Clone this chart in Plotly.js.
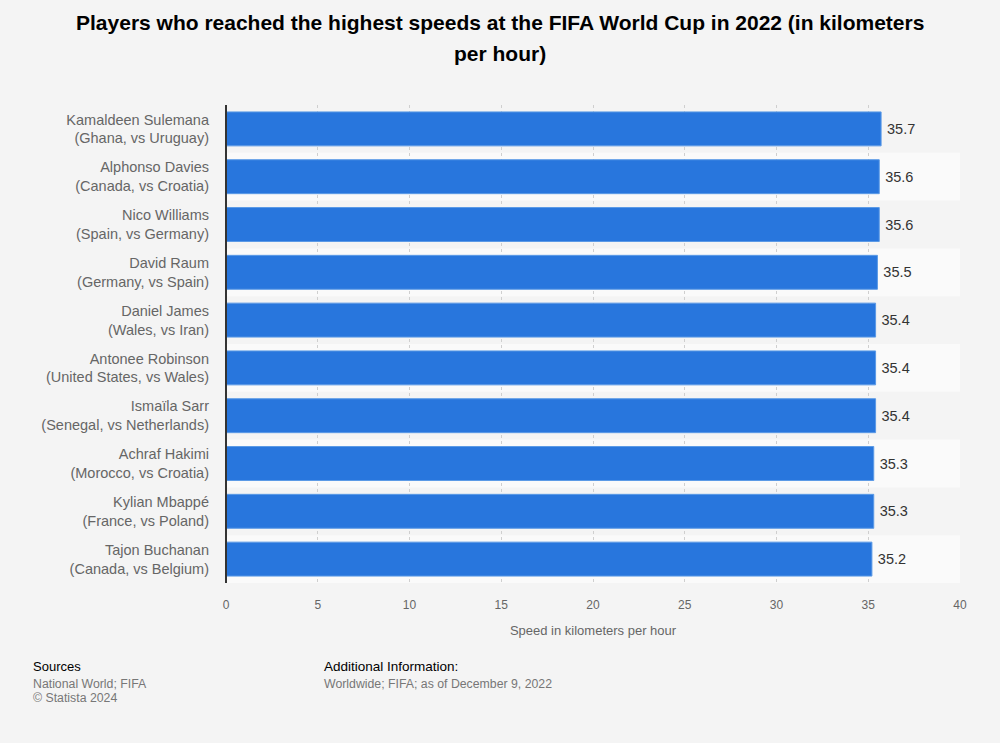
<!DOCTYPE html>
<html><head><meta charset="utf-8">
<script src="https://cdn.plot.ly/plotly-3.0.1.min.js"></script>
<style>html,body{margin:0;padding:0;background:#f4f4f4;}#chart{width:1000px;height:743px;}</style>
</head><body><div id="chart"></div>
<script>
const players = [
  "Kamaldeen Sulemana<br>(Ghana, vs Uruguay)",
  "Alphonso Davies<br>(Canada, vs Croatia)",
  "Nico Williams<br>(Spain, vs Germany)",
  "David Raum<br>(Germany, vs Spain)",
  "Daniel James<br>(Wales, vs Iran)",
  "Antonee Robinson<br>(United States, vs Wales)",
  "Ismaïla Sarr<br>(Senegal, vs Netherlands)",
  "Achraf Hakimi<br>(Morocco, vs Croatia)",
  "Kylian Mbappé<br>(France, vs Poland)",
  "Tajon Buchanan<br>(Canada, vs Belgium)"
];
const speeds = [35.7, 35.6, 35.6, 35.5, 35.4, 35.4, 35.4, 35.3, 35.3, 35.2];
const xTicks = [0, 5, 10, 15, 20, 25, 30, 35, 40];
const titleLines = ["Players who reached the highest speeds at the FIFA World Cup in 2022 (in kilometers", "per hour)"];

const font = "Liberation Sans, Arial, sans-serif";
const shapes = [];
players.forEach((p, i) => {
  if (i % 2 === 1) {
    shapes.push({type:'rect', xref:'paper', yref:'y', x0:0, x1:1, y0:i-0.5, y1:i+0.5,
      fillcolor:'#fafafa', line:{width:0}, layer:'below'});
  }
});
shapes.push({type:'line', xref:'paper', yref:'paper', x0:0, x1:0, y0:0, y1:1, line:{color:'#333', width:2}});

const trace = {
  type:'bar', orientation:'h', y:players, x:speeds,
  marker:{color:'#2876dd', line:{color:'#5b9ae6', width:1}},
  text:speeds.map(v=>'\u2009' + v.toFixed(1)), textposition:'outside',
  textfont:{family:font, size:14.5, color:'#333'}, cliponaxis:false,
  hoverinfo:'none'
};

const foot = (x, y, text, size, color) => ({xref:'paper', yref:'paper', x:x, y:y, xanchor:'left', yanchor:'middle',
  showarrow:false, text:text, font:{family:font, size:size, color:color}});

const layout = {
  width:1000, height:743,
  paper_bgcolor:'#f4f4f4', plot_bgcolor:'#f4f4f4',
  margin:{l:226, r:40, t:105, b:160},
  bargap:0.29,
  showlegend:false,
  font:{family:font},
  xaxis:{range:[0,40], tickvals:xTicks, showgrid:true, gridcolor:'#cfcfcf', griddash:'dot', gridwidth:1,
    zeroline:false, showline:false, ticks:'', tickfont:{family:font, size:12, color:'#666'}, ticklabelstandoff:13,
    title:{text:'Speed in kilometers per hour', font:{family:font, size:13, color:'#666'}, standoff:14}},
  yaxis:{autorange:'reversed', showgrid:false, zeroline:false, showline:false, ticks:'',
    tickfont:{family:font, size:14.5, color:'#666'}, ticklabelstandoff:16},
  shapes:shapes,
  annotations:[
    {xref:'paper', yref:'paper', x:0.3733, y:(583-22)/478, xanchor:'center', yanchor:'middle', showarrow:false,
      text:'<b>'+titleLines[0]+'</b>', font:{family:font, size:21, color:'#000'}},
    {xref:'paper', yref:'paper', x:0.3733, y:(583-53)/478, xanchor:'center', yanchor:'middle', showarrow:false,
      text:'<b>'+titleLines[1]+'</b>', font:{family:font, size:21, color:'#000'}},
    foot(-0.2657, -0.175, 'Sources', 13, '#000'),
    foot(-0.2657, -0.2105, 'National World; FIFA', 12.3, '#777'),
    foot(-0.2657, -0.2415, '© Statista 2024', 12.3, '#777'),
    foot(0.1308, -0.175, 'Additional Information:', 13.5, '#000'),
    foot(0.1308, -0.2105, 'Worldwide; FIFA; as of December 9, 2022', 12.3, '#777')
  ]
};

Plotly.newPlot('chart', [trace], layout, {displayModeBar:false, staticPlot:true});
</script>
</body></html>
